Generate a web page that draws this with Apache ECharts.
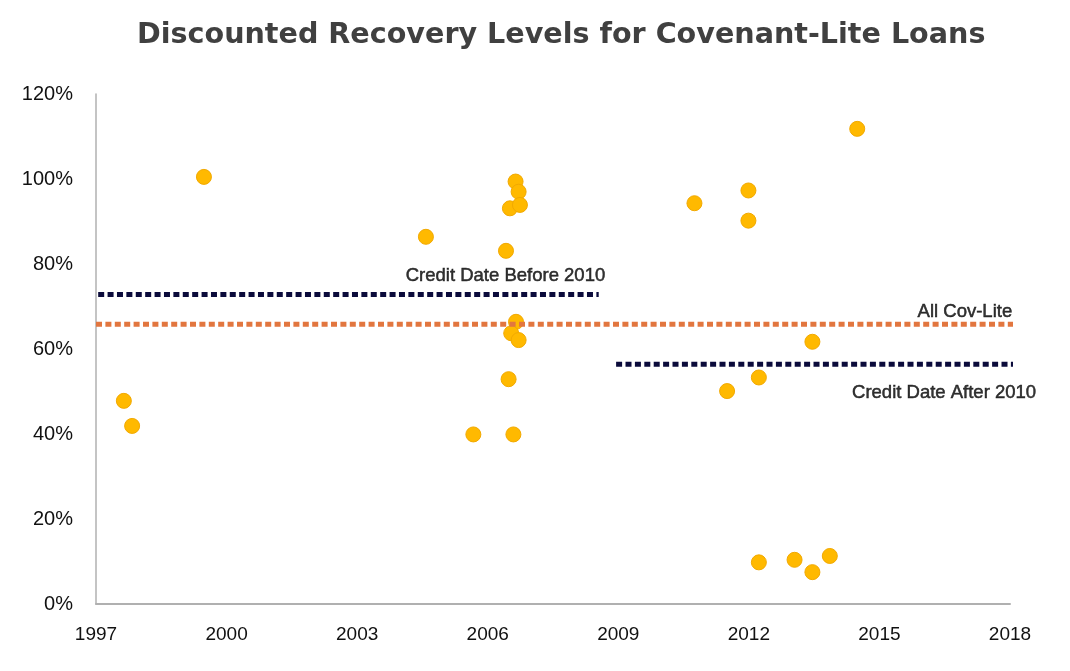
<!DOCTYPE html>
<html>
<head>
<meta charset="utf-8">
<script src="https://cdn.jsdelivr.net/npm/echarts@6/dist/echarts.min.js"></script>
<style>
html,body{margin:0;padding:0;background:#fff;}
#chart{width:1070px;height:671px;}
</style>
</head>
<body>
<div id="chart"></div>
<script>
// ---- data ----
const chartTitle = 'Discounted Recovery Levels for Covenant-Lite Loans';
const loanYears = [1997.64, 1997.83, 1999.48, 2004.58, 2005.67, 2006.42, 2006.64, 2006.71, 2006.51, 2006.74,
                   2006.65, 2006.54, 2006.71, 2006.48, 2006.59,
                   2010.75, 2011.99, 2011.99, 2014.49, 2011.50, 2012.23, 2013.46,
                   2012.23, 2013.05, 2013.46, 2013.86];
const recoveryPct = [47.8, 41.9, 100.5, 86.4, 39.9, 83.1, 99.4, 97.0, 93.1, 93.9,
                     66.4, 63.7, 62.1, 52.9, 39.9,
                     94.3, 97.3, 90.2, 111.8, 50.1, 53.3, 61.7,
                     9.8, 10.4, 7.5, 11.3];
const xTicks = [1997, 2000, 2003, 2006, 2009, 2012, 2015, 2018];
const yTicks = [0, 20, 40, 60, 80, 100, 120];

// reference averages
const refNames  = ['Credit Date Before 2010', 'All Cov-Lite', 'Credit Date After 2010'];
const refValues = [72.8, 65.8, 56.4];
const refFrom   = [1997.05, 1997.0, 2008.95];
const refTo     = [2008.55, 2018.5, 2018.5];
// label anchor (right edge, middle) in data units
const refLabelX = [2008.7, 2018.05, 2018.6];
const refLabelY = [77.2, 68.7, 49.6];
const refColors = ['#0B0B3B', '#E2763F', '#0B0B3B'];

// ---- chart ----
const chart = echarts.init(document.getElementById('chart'), null, {renderer: 'canvas'});
const sans = '"Liberation Sans", Arial, sans-serif';

const series = [{
  type: 'scatter',
  data: loanYears.map((x, i) => [x, recoveryPct[i]]),
  symbolSize: 15,
  itemStyle: {color: '#FFB900', borderColor: '#F2A900', borderWidth: 1, opacity: 1},
  z: 2
}];
refNames.forEach((name, i) => {
  series.push({
    type: 'line',
    name: name,
    data: [[refFrom[i], refValues[i]], [refTo[i], refValues[i]]],
    symbol: 'none',
    clip: false,
    silent: true,
    lineStyle: {color: refColors[i], width: 5, type: [6, 3.4], cap: 'butt'},
    z: 3
  });
  series.push({
    type: 'scatter',
    data: [[refLabelX[i], refLabelY[i]]],
    symbolSize: 0,
    clip: false,
    silent: true,
    label: {
      show: true,
      position: [0, 0],
      align: 'right',
      verticalAlign: 'middle',
      formatter: name,
      fontFamily: sans,
      fontSize: 18.5,
      color: '#000',
      textBorderColor: '#000',
      textBorderWidth: 0.5
    },
    z: 4
  });
});

chart.setOption({
  animation: false,
  backgroundColor: '#ffffff',
  title: {
    text: chartTitle,
    left: 132,
    top: 16,
    textStyle: {fontFamily: '"DejaVu Sans", sans-serif', fontSize: 28.6, fontWeight: 'bold', color: '#404040'}
  },
  grid: {left: 96, right: 60, top: 94, bottom: 67},
  xAxis: {
    type: 'value',
    min: xTicks[0],
    max: xTicks[xTicks.length - 1],
    interval: 3,
    axisLine: {show: true, lineStyle: {color: '#B0B0B0', width: 2}},
    axisTick: {show: false},
    splitLine: {show: false},
    axisLabel: {margin: 21, fontFamily: sans, fontSize: 19, color: '#111', formatter: v => String(v)}
  },
  yAxis: {
    type: 'value',
    min: yTicks[0],
    max: yTicks[yTicks.length - 1],
    interval: 20,
    axisLine: {show: true, lineStyle: {color: '#B0B0B0', width: 1.5}},
    axisTick: {show: false},
    splitLine: {show: false},
    axisLabel: {margin: 23, formatter: '{value}%', fontFamily: sans, fontSize: 20, color: '#111'}
  },
  series: series
});
</script>
</body>
</html>
